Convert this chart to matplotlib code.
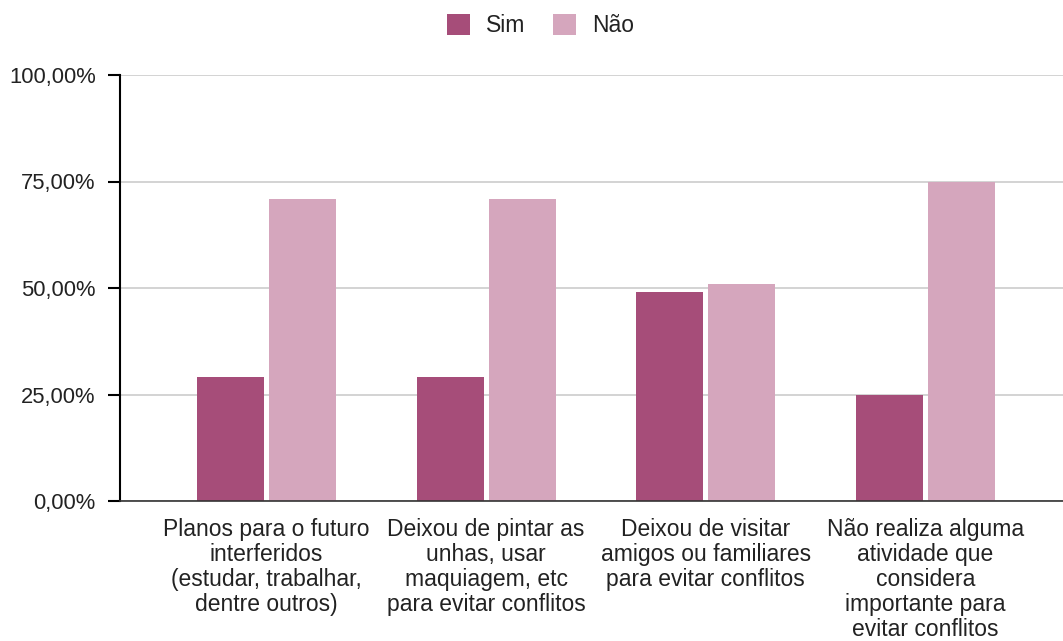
import matplotlib.pyplot as plt
import numpy as np
from matplotlib.ticker import FuncFormatter

plt.rcParams['font.family'] = ['Liberation Sans', 'DejaVu Sans']

categorias = [
    "Planos para o futuro\ninterferidos\n(estudar, trabalhar,\ndentre outros)",
    "Deixou de pintar as\nunhas, usar\nmaquiagem, etc\npara evitar conflitos",
    "Deixou de visitar\namigos ou familiares\npara evitar conflitos",
    "Não realiza alguma\natividade que\nconsidera\nimportante para\nevitar conflitos",
]
sim = [29.17, 29.17, 49.0, 25.0]
nao = [70.83, 70.83, 51.0, 75.0]
series = ["Sim", "Não"]
cores = ["#a64d79", "#d5a6bd"]

fig = plt.figure(figsize=(10.63, 6.41), dpi=100)
ax = fig.add_axes([120/1063, 140/641, 943/1063, 426/641])

x = np.arange(len(categorias))
w = 0.305
gap = 0.012
ax.bar(x - w/2 - gap, sim, w, color=cores[0], label=series[0], zorder=3)
ax.bar(x + w/2 + gap, nao, w, color=cores[1], label=series[1], zorder=3)

ax.set_xlim(-0.667, 3.626)
ax.set_ylim(0, 100)
ax.set_yticks([0, 25, 50, 75, 100])
ax.yaxis.set_major_formatter(FuncFormatter(lambda v, p: f"{v:.2f}%".replace(".", ",")))
ax.grid(axis='y', color='#cccccc', linewidth=1.2, zorder=0)

ax.set_xticks(x)
ax.set_xticklabels(categorias, fontsize=16.5, color='#222222', linespacing=1.12)
ax.tick_params(axis='x', length=0, pad=12)
ax.tick_params(axis='y', length=8.5, width=1.5, color='black', labelsize=15.8,
               labelcolor='#222222', pad=9)

for s in ['top', 'right']:
    ax.spines[s].set_visible(False)
ax.spines['left'].set_linewidth(1.5)
ax.spines['left'].set_color('black')
ax.spines['bottom'].set_color('#333333')
ax.spines['bottom'].set_linewidth(1.2)
ax.spines['bottom'].set_zorder(4)

fig.legend(loc='upper center', bbox_to_anchor=(0.5085, 1.01), ncol=2, frameon=False,
           fontsize=16.5, handlelength=1.0, handleheight=1.0, columnspacing=1.2,
           handletextpad=0.7, labelcolor='#222222')

fig.savefig("out.png", dpi=100)
